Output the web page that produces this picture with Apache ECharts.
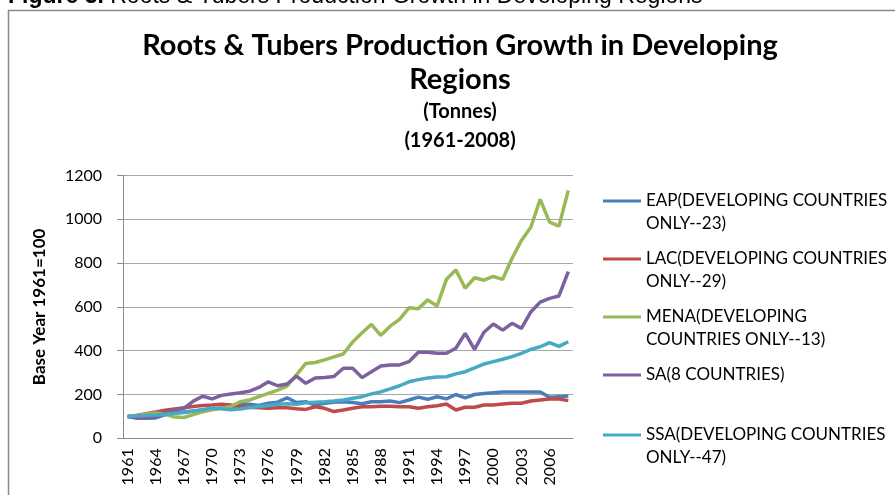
<!DOCTYPE html>
<html>
<head>
<meta charset="utf-8">
<script src="https://cdn.jsdelivr.net/npm/echarts@6/dist/echarts.min.js"></script>
<style>
  html, body { margin: 0; padding: 0; background: #fff; }
  #chart { width: 895px; height: 495px; }
</style>
</head>
<body>
<div id="chart"></div>
<script>
const years = [
  '1961', '1962', '1963', '1964', '1965', '1966', '1967', '1968', '1969', '1970',
  '1971', '1972', '1973', '1974', '1975', '1976', '1977', '1978', '1979', '1980',
  '1981', '1982', '1983', '1984', '1985', '1986', '1987', '1988', '1989', '1990',
  '1991', '1992', '1993', '1994', '1995', '1996', '1997', '1998', '1999', '2000',
  '2001', '2002', '2003', '2004', '2005', '2006', '2007', '2008'
];

const eap = [
  100, 93, 92, 93, 108, 115, 120, 125, 130, 133,
  138, 140, 158, 155, 150, 160, 165, 185, 163, 167,
  152, 160, 165, 167, 163, 158, 167, 167, 170, 163,
  175, 188, 178, 190, 180, 200, 185, 200, 205, 208,
  211, 211, 211, 211, 211, 187, 190, 193
];
const lac = [
  100, 105, 112, 120, 128, 134, 140, 145, 150, 152,
  155, 152, 145, 142, 140, 137, 140, 140, 135, 132,
  144, 137, 122, 129, 137, 144, 144, 146, 146, 144,
  144, 137, 144, 149, 157, 129, 142, 142, 152, 152,
  157, 160, 160, 170, 175, 179, 179, 172
];
const mena = [
  100, 104, 110, 116, 110, 97, 95, 108, 121, 130,
  137, 145, 167, 175, 190, 205, 220, 238, 290, 342,
  346, 358, 372, 385, 440, 482, 520, 470, 512, 543,
  596, 592, 632, 604, 726, 769, 685, 733, 722, 739,
  726, 822, 903, 964, 1091, 987, 969, 1132
];
const sa = [
  100, 92, 93, 100, 113, 128, 137, 170, 192, 180,
  196, 202, 208, 215, 232, 258, 240, 248, 284, 251,
  275, 278, 282, 320, 320, 277, 304, 330, 335, 335,
  350, 393, 393, 388, 388, 411, 479, 406, 484, 522,
  494, 525, 502, 577, 622, 639, 650, 761
];
const ssa = [
  100, 102, 104, 106, 110, 114, 118, 124, 130, 138,
  135, 130, 134, 140, 145, 150, 155, 158, 155, 162,
  165, 167, 170, 175, 183, 190, 203, 212, 226, 240,
  258, 268, 275, 280, 281, 294, 304, 322, 339, 350,
  361, 373, 388, 406, 418, 437, 420, 441
];

const names = [
  'EAP(DEVELOPING COUNTRIES\nONLY--23)',
  'LAC(DEVELOPING COUNTRIES\nONLY--29)',
  'MENA(DEVELOPING\nCOUNTRIES ONLY--13)',
  'SA(8 COUNTRIES)',
  'SSA(DEVELOPING COUNTRIES\nONLY--47)'
];
const colors = ['#4a7ebb', '#be4b48', '#98b954', '#7d60a0', '#46aac5'];
const values = [eap, lac, mena, sa, ssa];

const font = 'Lato';
const myChart = echarts.init(document.getElementById('chart'));

const series = values.map((v, i) => {
  return {
    name: names[i],
    type: 'line',
    symbol: 'none',
    color: colors[i],
    lineStyle: { width: 3.5 },
    data: v,
  };
});

// one legend per entry so the icon sits on the first text line
const legendTops = [166.5, 224.5, 282.5, 363.5, 400.5];
const legend = names.map((n, i) => {
  return {
    data: [n],
    orient: 'vertical',
    left: 603,
    top: legendTops[i],
    padding: 0,
    icon: 'rect',
    itemWidth: 38,
    itemHeight: 3,
    selectedMode: false,
    formatter: n.indexOf('\n') >= 0 ? '\n{name}' : '{name}',
    textStyle: { fontFamily: font, fontSize: 17, lineHeight: 23, color: '#000' },
  };
});

const option = {
  backgroundColor: '#fff',
  animation: false,
  graphic: [
    {
      // outer frame of the figure
      type: 'rect',
      shape: { x: 8.5, y: 10.5, width: 1000, height: 1000 },
      style: { fill: 'none', stroke: '#8a8a8a', lineWidth: 1.5 },
      silent: true,
    },
    {
      type: 'text',
      x: 8,
      y: -3,
      style: {
        text: '{b|Figure 3.} Roots & Tubers Production Growth in Developing Regions',
        font: '23px "Liberation Sans"',
        fill: '#000',
        verticalAlign: 'middle',
        rich: { b: { fontWeight: 'bold', fontSize: 23, fontFamily: 'Liberation Sans' } },
      },
    },
    {
      type: 'text',
      x: 460,
      y: 46,
      style: {
        text: 'Roots & Tubers Production Growth in Developing',
        font: 'bold 29px Lato',
        fill: '#000',
        align: 'center',
        verticalAlign: 'middle',
      },
    },
    {
      type: 'text',
      x: 460,
      y: 80,
      style: { text: 'Regions', font: 'bold 29px Lato', fill: '#000', align: 'center', verticalAlign: 'middle' },
    },
    {
      type: 'text',
      x: 460,
      y: 112,
      style: { text: '(Tonnes)', font: 'bold 20px Lato', fill: '#000', align: 'center', verticalAlign: 'middle' },
    },
    {
      type: 'text',
      x: 460,
      y: 141,
      style: { text: '(1961-2008)', font: 'bold 20px Lato', fill: '#000', align: 'center', verticalAlign: 'middle' },
    },
  ],
  legend: legend,
  grid: {
    left: 123,
    top: 175.5,
    width: 450,
    height: 262.8,
  },
  xAxis: {
    type: 'category',
    boundaryGap: true,
    data: years,
    axisLine: { lineStyle: { color: '#8a8a8a', width: 1 } },
    axisTick: { interval: 0, length: 5, lineStyle: { color: '#8a8a8a' } },
    axisLabel: {
      interval: 2,
      rotate: 90,
      margin: 10,
      fontFamily: font,
      fontSize: 16,
      color: '#000',
    },
  },
  yAxis: {
    type: 'value',
    min: 0,
    max: 1200,
    interval: 200,
    name: 'Base Year 1961=100',
    nameLocation: 'middle',
    nameGap: 75,
    nameTextStyle: { fontFamily: font, fontSize: 17, fontWeight: 'bold', color: '#000' },
    axisLine: { show: true, lineStyle: { color: '#8a8a8a', width: 1 } },
    axisTick: { show: true, length: 6, lineStyle: { color: '#8a8a8a' } },
    splitLine: { lineStyle: { color: '#a6a6a6', width: 1 } },
    axisLabel: {
      margin: 21,
      fontFamily: font,
      fontSize: 16,
      color: '#000',
      formatter: (v) => String(v),
    },
  },
  series: series,
};

myChart.setOption(option);
</script>
</body>
</html>
